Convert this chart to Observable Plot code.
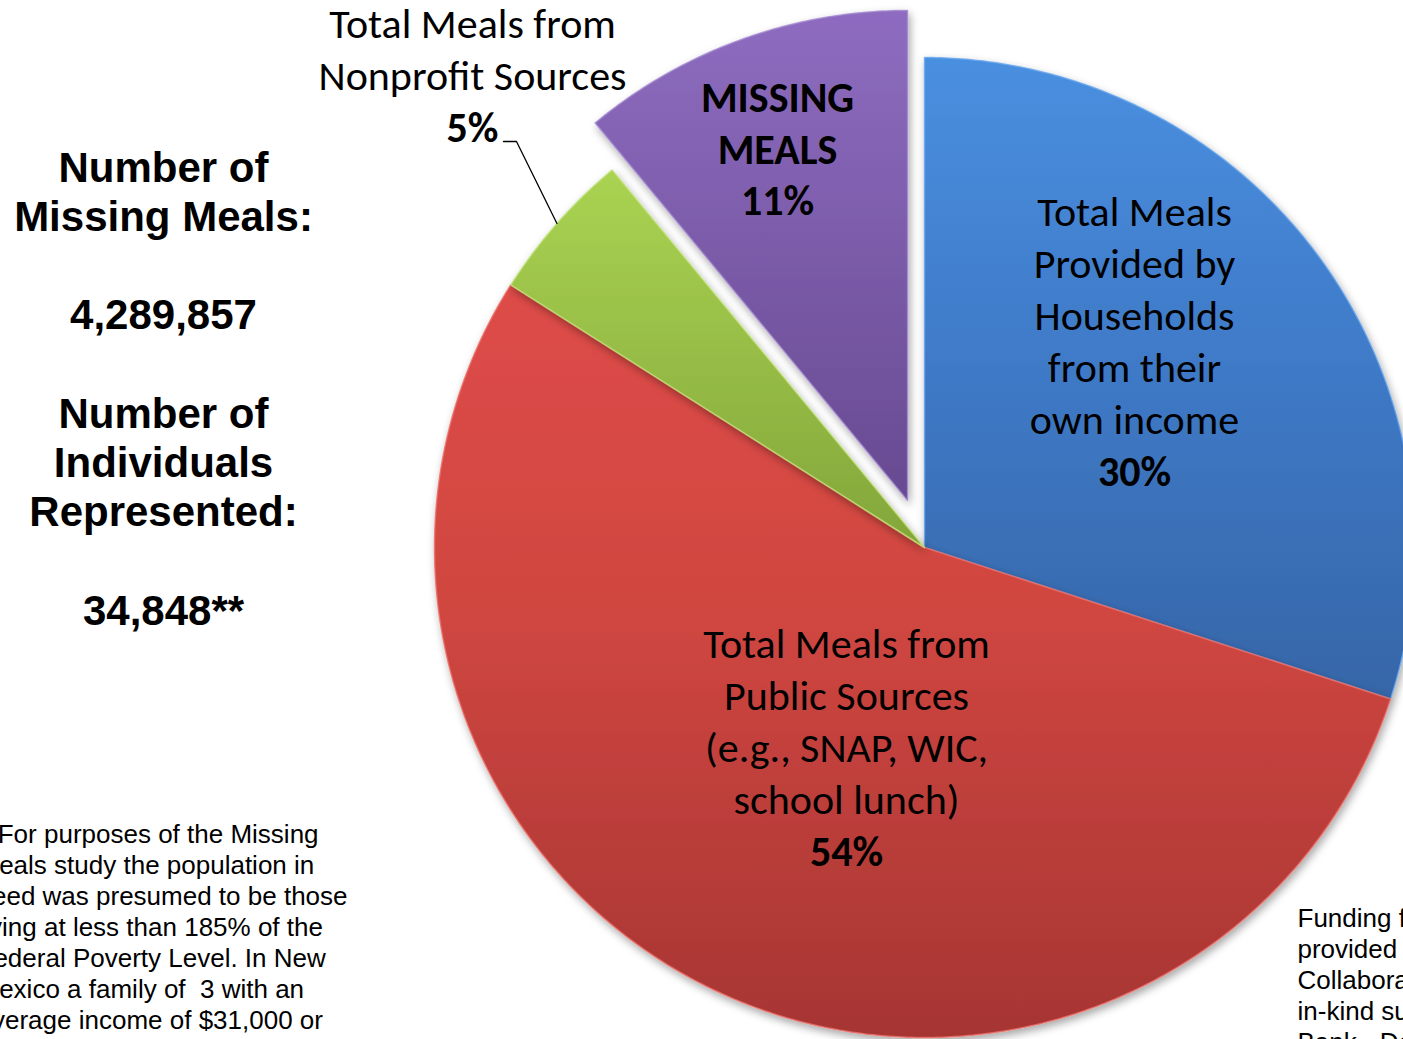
<!DOCTYPE html>
<html><head><meta charset="utf-8">
<script src="https://cdn.jsdelivr.net/npm/d3@7"></script>
<script src="https://cdn.jsdelivr.net/npm/@observablehq/plot@0.6"></script>
<style>html,body{margin:0;padding:0;background:#fff;overflow:hidden}</style>
</head><body><div id="chart"></div>
<script>
// ---- data ----
const categories = [
  "Total Meals Provided by Households from their own income",
  "Total Meals from Public Sources (e.g., SNAP, WIC, school lunch)",
  "Total Meals from Nonprofit Sources",
  "MISSING MEALS"
];
const shares = [30, 54, 5, 11];
const pctLabels = ["30%", "54%", "5%", "11%"];
const sliceLabelLines = [
  ["Total Meals", "Provided by", "Households", "from their", "own income"],
  ["Total Meals from", "Public Sources", "(e.g., SNAP, WIC,", "school lunch)"],
  ["Total Meals from", "Nonprofit Sources"],
  ["MISSING", "MEALS"]
];
const explodedSlices = [false, false, false, true];
const boldLabels = [false, false, false, true];
const sideLines = ["Number of", "Missing Meals:", "", "4,289,857", "", "Number of", "Individuals", "Represented:", "", "34,848**"];
const noteLines = [
  "**For purposes of the Missing",
  "Meals study the population in",
  "need was presumed to be those",
  "living at less than 185% of the",
  "Federal Poverty Level. In New",
  "Mexico a family of  3 with an",
  "average income of $31,000 or",
  "less meets the guidelines."
];
const fundingLines = [
  "Funding for this study was",
  "provided by the Hunger",
  "Collaborative, with",
  "in-kind support from the Food",
  "Bank - Doña Ana County"
];

// ---- layout (pixels) ----
const W = 1403, H = 1039;
const CX = 924, CY = 547, R = 490, EXPLODE = 50;
const toU = px => (px - CX) / R;
const toV = py => (py - CY) / R;
const gradStops = [
  [["0", "#4a8fe0"], ["0.5", "#3e79c6"], ["1", "#3666a8"]],
  [["0", "#de4c48"], ["0.45", "#cf4640"], ["1", "#a63533"]],
  [["0", "#aad352"], ["1", "#83a63a"]],
  [["0", "#8e6cc0"], ["1", "#674a91"]]
];
const edgeColors = ["#68a6ee", "#ec6e68", "#c2e27a", "#a58ad2"];
const labelPos = [
  {x: 1134, linesBase: 433, pctBase: 485},
  {x: 846, linesBase: 813, pctBase: 865},
  {x: 472, linesBase: 89, pctBase: 141},
  {x: 777, linesBase: 163, pctBase: 214}
];
const leaderStart = [[503, 141], [516, 141]];
const LABEL_SIZE = 42;

// ---- geometry from data ----
const arcs = d3.pie().sort(null).value(d => d)(shares);
const slices = arcs.map((a, i) => {
  const mid = (a.startAngle + a.endAngle) / 2;
  const off = explodedSlices[i] ? EXPLODE / R : 0;
  const ox = Math.sin(mid) * off, oy = -Math.cos(mid) * off;
  const pts = [{x: ox, y: oy}];
  const n = Math.max(8, Math.ceil((a.endAngle - a.startAngle) / (Math.PI / 360)));
  for (let k = 0; k <= n; k++) {
    const t = a.startAngle + (a.endAngle - a.startAngle) * k / n;
    pts.push({x: ox + Math.sin(t), y: oy - Math.cos(t)});
  }
  pts.push({x: ox, y: oy});
  return {pts, mid, ox, oy};
});
const greenMid = slices[2].mid;
const leader = [
  ...leaderStart.map(([px, py]) => ({x: toU(px), y: toV(py)})),
  {x: Math.sin(greenMid), y: -Math.cos(greenMid)}
];

const slabel = "Calibri, Lato, 'Open Sans', sans-serif";
const arial = "Arial, 'Liberation Sans', Helvetica, sans-serif";

const marks = [];
slices.forEach((s, i) => {
  marks.push(Plot.line(s.pts, {x: "x", y: "y", fill: `url(#grad${i})`, stroke: edgeColors[i], strokeWidth: 1.5, strokeOpacity: 0.8, curve: "linear"}));
});
marks.push(Plot.line(leader, {x: "x", y: "y", stroke: "#000", strokeWidth: 1.3}));
sliceLabelLines.forEach((lines, i) => {
  const p = labelPos[i];
  marks.push(Plot.text([{x: toU(p.x), y: toV(p.linesBase), t: lines.join("\n")}], {
    x: "x", y: "y", text: "t", textAnchor: "middle", lineAnchor: "bottom",
    fontSize: LABEL_SIZE, lineHeight: 52 / LABEL_SIZE, fontFamily: slabel, fontWeight: boldLabels[i] ? "bold" : "normal", fill: "#000"
  }));
  marks.push(Plot.text([{x: toU(p.x), y: toV(p.pctBase), t: pctLabels[i]}], {
    x: "x", y: "y", text: "t", textAnchor: "middle", lineAnchor: "bottom",
    fontSize: LABEL_SIZE, fontFamily: slabel, fontWeight: "bold", fill: "#000"
  }));
});
marks.push(Plot.text([{x: toU(163), y: toV(624), t: sideLines.join("\n")}], {
  x: "x", y: "y", text: "t", textAnchor: "middle", lineAnchor: "bottom",
  fontSize: 42, lineHeight: 49.2 / 42, fontFamily: arial, fontWeight: "bold", fill: "#000"
}));
marks.push(Plot.text([{x: toU(-23), y: toV(1059), t: noteLines.join("\n")}], {
  x: "x", y: "y", text: "t", textAnchor: "start", lineAnchor: "bottom",
  fontSize: 26, lineHeight: 31 / 26, fontFamily: arial, fill: "#000"
}));
marks.push(Plot.text([{x: toU(1297), y: toV(1050), t: fundingLines.join("\n")}], {
  x: "x", y: "y", text: "t", textAnchor: "start", lineAnchor: "bottom",
  fontSize: 26, lineHeight: 31 / 26, fontFamily: arial, fill: "#000"
}));

const chart = Plot.plot({
  width: W, height: H,
  margin: 0,
  x: {domain: [toU(0), toU(W)], range: [0, W], axis: null},
  y: {domain: [toV(0), toV(H)], range: [0, H], axis: null},
  style: {background: "#fff", overflow: "hidden"},
  marks
});

// gradients and shadow
const ns = "http://www.w3.org/2000/svg";
const defs = document.createElementNS(ns, "defs");
let html = `<filter id="shadow" x="-10%" y="-10%" width="125%" height="125%"><feDropShadow dx="2" dy="4" stdDeviation="4" flood-color="#000" flood-opacity="0.35"/></filter>`;
gradStops.forEach((stops, i) => {
  html += `<linearGradient id="grad${i}" x1="0" y1="0" x2="0" y2="1">` +
    stops.map(([o, c]) => `<stop offset="${o}" stop-color="${c}"/>`).join("") + `</linearGradient>`;
});
defs.innerHTML = html;
chart.prepend(defs);
const lineGroups = chart.querySelectorAll('g[aria-label="line"]');
lineGroups.forEach((g, i) => { if (i < slices.length) g.setAttribute("filter", "url(#shadow)"); });
document.getElementById("chart").appendChild(chart);
</script>
</body></html>
